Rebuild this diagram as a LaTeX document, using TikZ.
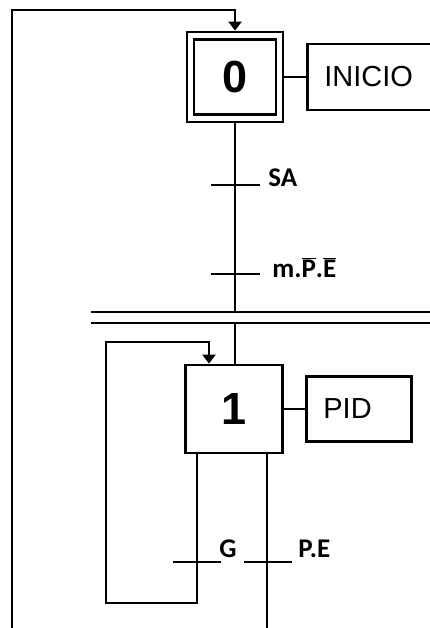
\documentclass[tikz,border=0pt]{standalone}
\usepackage{fontspec}
\setmainfont{Liberation Sans}
\newfontfamily\condfont{Carlito}
\usepackage{tikz}
\usetikzlibrary{arrows.meta}
\newcommand{\negsig}[1]{$\overline{\hbox{#1}}$}

\begin{document}
\begin{tikzpicture}[x=1pt, y=-1pt, line width=2.8pt,
  stepbox/.style={draw, minimum width=96, minimum height=90, inner sep=0pt,
                  font=\fontsize{45}{48}\selectfont\bfseries},
  actbox/.style={draw, minimum height=66, inner xsep=17pt, align=left,
                 font=\fontsize{29}{32}\selectfont},
  cond/.style={anchor=base west, inner sep=0pt,
               font=\fontsize{27}{30}\selectfont\condfont\bfseries},
  flow/.style={-{Triangle[width=13pt, length=9pt]}},
  tick/.style={line width=2.8pt},
]
\useasboundingbox (0,0) rectangle (430,628);
\clip (0,0) rectangle (430,628);

% step 0 (initial)
\node[stepbox] (s0o) at (235,77) {};
\node[stepbox, minimum width=82, minimum height=75] (s0) at (235,77) {0};
\node[actbox, anchor=west, text width=94] (a0) at (306,77) {INICIO};
\draw (s0o.east) -- (a0.west);

% transitions SA and m.P.E
\coordinate (bu) at (91,312);
\coordinate (bl) at (91,323);
\coordinate (t1) at (235,185);
\coordinate (t2) at (235,274);
\draw (s0o.south) -- (s0o.south |- bu);
\draw[tick] (t1) ++(-24,0) -- ++(49,0);
\draw[tick] (t2) ++(-24,0) -- ++(49,0);
\node[cond] (c1) at (267,187) {SA};
\node[cond] (c2) at (271,277) {m.\negsig{P}.\negsig{E}};

% double bar
\draw (bu) -- ++(345,0);
\draw (bl) -- ++(345,0);

% step 1
\node[stepbox, minimum width=97, minimum height=88] (s1) at (234,409) {1};
\node[actbox, anchor=west, text width=71, minimum height=65] (a1) at (305,409) {PID};
\draw (s1.east) -- (a1.west);
\draw (s1.north -| t1) ++(0,-42) -- (s1.north -| t1);

% branches G and P.E
\coordinate (g) at (197,562);
\coordinate (pe) at (267,562);
\draw (s1.south -| g) -- (g);
\draw (s1.south -| pe) -- (pe);
\draw[tick] (g) ++(-24,0) -- ++(48,0);
\draw[tick] (pe) ++(-23,0) -- ++(48,0);
\node[cond] (c3) at (218,557) {G};
\node[cond] (c4) at (297,557) {P.E};

% loops back
\draw[flow] (g) |- (106,603) -- (106,342) -| ([xshift=-25pt]s1.north);
\draw[flow] (pe) -- (267,640) -| (12,10) -| (s0o.north);
\end{tikzpicture}
\end{document}
